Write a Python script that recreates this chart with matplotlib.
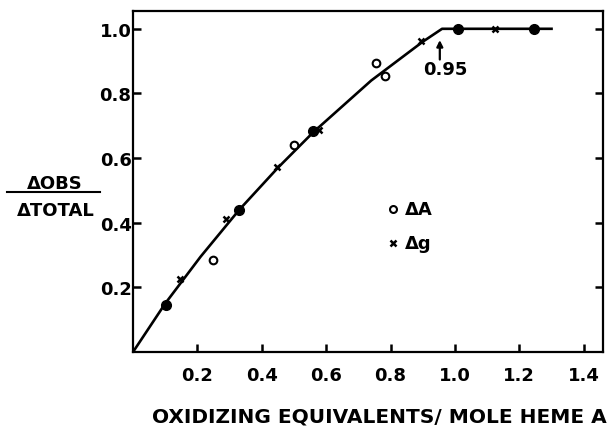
import matplotlib
matplotlib.use('Agg')
import matplotlib.pyplot as plt
import numpy as np

# Fitted curve
curve_x = [0.0, 0.10, 0.21, 0.33, 0.45, 0.56, 0.74, 0.90, 0.96, 1.30]
curve_y = [0.0, 0.15, 0.295, 0.44, 0.57, 0.68, 0.84, 0.96, 1.0, 1.0]

# Delta A only (open circles)
dA_x = [0.25, 0.50, 0.755, 0.783]
dA_y = [0.285, 0.641, 0.895, 0.855]

# Delta g only (crosses)
dg_x = [0.146, 0.289, 0.447, 0.578, 0.894, 1.124]
dg_y = [0.226, 0.412, 0.573, 0.687, 0.963, 1.0]

# points where both coincide (filled)
both_x = [0.102, 0.329, 0.559, 1.009, 1.245]
both_y = [0.146, 0.44, 0.684, 1.0, 1.0]

xticks = [0.2, 0.4, 0.6, 0.8, 1.0, 1.2, 1.4]
xtick_labels = ['0.2', '0.4', '0.6', '0.8', '1.0', '1.2', '1.4']
yticks = [0.2, 0.4, 0.6, 0.8, 1.0]
ytick_labels = ['0.2', '0.4', '0.6', '0.8', '1.0']

plt.rcParams['font.family'] = ['DejaVu Sans']
plt.rcParams['font.weight'] = 'bold'

fig = plt.figure(figsize=(6.09, 4.27), dpi=100)
ax = fig.add_axes([0.2184, 0.1733, 0.7718, 0.7993])

ax.plot(curve_x, curve_y, color='black', lw=1.9, zorder=2)
ax.plot(dA_x, dA_y, 'o', mfc='white', mec='black', mew=1.5, ms=5.5, ls='none', zorder=3)
ax.plot(dg_x, dg_y, 'x', color='black', mew=1.8, ms=4.5, ls='none', zorder=3)
ax.plot(both_x, both_y, 'o', color='black', ms=7, ls='none', zorder=3)

ax.set_xlim(0, 1.46)
ax.set_ylim(0, 1.056)

ax.set_xticks(xticks)
ax.set_xticklabels(xtick_labels)
ax.set_yticks(yticks)
ax.set_yticklabels(ytick_labels)
ax.tick_params(direction='in', length=6, width=1.8, labelsize=13, right=True)
ax.tick_params(axis='x', pad=10)
ax.tick_params(axis='y', pad=1)
for s in ax.spines.values():
    s.set_linewidth(1.6)

# legend drawn inside the plot
ax.plot([0.807], [0.443], 'o', mfc='white', mec='black', mew=1.5, ms=5, ls='none')
ax.plot([0.807], [0.337], 'x', color='black', mew=1.8, ms=4, ls='none')
ax.text(0.845, 0.443, 'ΔA', fontsize=13, va='center', ha='left')
ax.text(0.845, 0.337, 'Δg', fontsize=13, va='center', ha='left')

# break point marker
ax.annotate('', xy=(0.953, 0.965), xytext=(0.953, 0.905),
            arrowprops=dict(arrowstyle='-|>', color='black', lw=1.6,
                            shrinkA=0, shrinkB=0, mutation_scale=9))
ax.text(0.97, 0.876, '0.95', fontsize=13, ha='center', va='center')

ax.set_xlabel('OXIDIZING EQUIVALENTS/ MOLE HEME A', fontsize=14.5, fontweight='bold')
ax.xaxis.set_label_coords(0.525, -0.16)

# y label as fraction
fig.text(0.09, 0.568, 'ΔOBS', fontsize=13, ha='center', va='center')
fig.text(0.092, 0.505, 'ΔTOTAL', fontsize=13, ha='center', va='center')
fig.add_artist(plt.Line2D([0.012, 0.165], [0.548, 0.548], color='black', lw=1.5))

fig.savefig('out.png', dpi=100)
